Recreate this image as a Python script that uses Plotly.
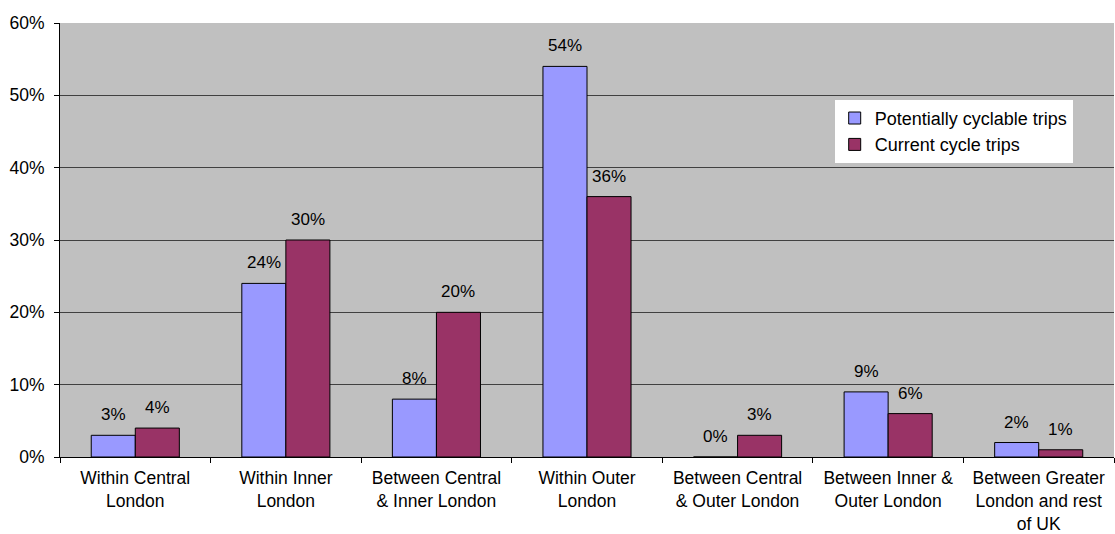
import plotly.graph_objects as go

categories = ["Within Central<br>London", "Within Inner<br>London", "Between Central<br>& Inner London",
              "Within Outer<br>London", "Between Central<br>& Outer London", "Between Inner &<br>Outer London",
              "Between Greater<br>London and rest<br>of UK"]
potential = [3, 24, 8, 54, 0, 9, 2]
current = [4, 30, 20, 36, 3, 6, 1]
series_names = ["Potentially cyclable trips", "Current cycle trips"]
y_ticks = [0, 10, 20, 30, 40, 50, 60]

FONT = "Liberation Sans, Arial"
BARGAP = 0.415
bar_w = (1 - BARGAP) / 2

fig = go.Figure()
annotations = []
for k, (name, vals, col) in enumerate([(series_names[0], potential, "#9999FF"),
                                        (series_names[1], current, "#993366")]):
    fig.add_trace(go.Bar(
        x=categories, y=vals, name=name,
        marker=dict(color=col, line=dict(color="black", width=1)),
    ))
    off = (k - 0.5) * bar_w
    for i, v in enumerate(vals):
        annotations.append(dict(
            x=i + off, y=v, xref="x", yref="y", text=f"{v}%",
            showarrow=False, yanchor="bottom", xanchor="center", yshift=9,
            font=dict(family=FONT, size=17, color="black"),
        ))

fig.update_layout(
    width=1115, height=534,
    margin=dict(l=60, r=1, t=23, b=77),
    paper_bgcolor="white", plot_bgcolor="#C0C0C0",
    barmode="group", bargap=BARGAP, bargroupgap=0,
    font=dict(family=FONT, size=17, color="black"),
    showlegend=True,
    annotations=annotations,
    legend=dict(x=0.735, y=0.823, xanchor="left", yanchor="top",
                bgcolor="white", borderwidth=0, itemwidth=30,
                font=dict(size=18), tracegroupgap=2),
    xaxis=dict(showline=True, linecolor="black", linewidth=1,
               ticks="outside", tickson="boundaries", ticklen=5, tickcolor="black",
               ticklabelstandoff=5, automargin=False,
               showgrid=False, tickfont=dict(size=17.5)),
    yaxis=dict(range=[0, 60], tickvals=y_ticks, ticktext=[f"{v}%" for v in y_ticks],
               showline=True, linecolor="black", linewidth=1,
               ticks="outside", ticklen=5, tickcolor="black",
               ticklabelstandoff=6, automargin=False,
               showgrid=True, gridcolor="#404040", gridwidth=1,
               zeroline=False, tickfont=dict(size=17.5)),
)
fig.write_html("out.html")
